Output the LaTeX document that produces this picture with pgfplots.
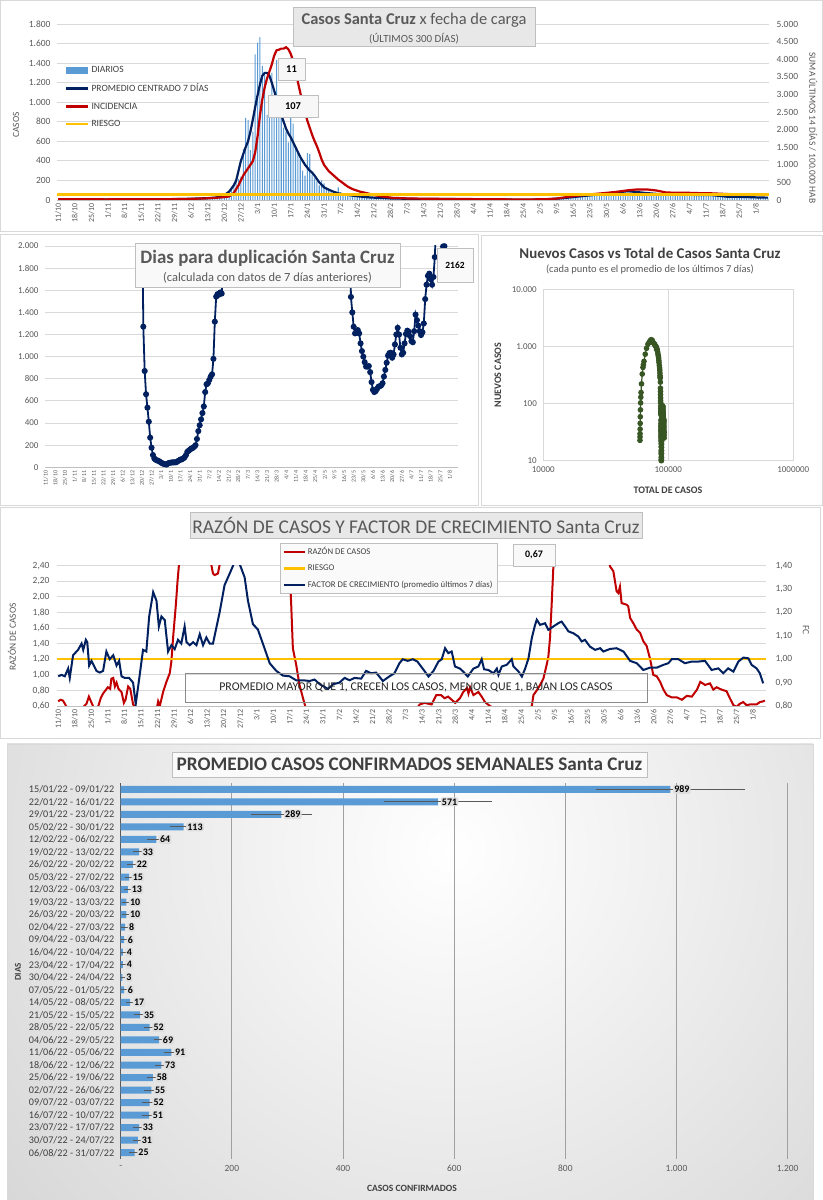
\documentclass[border=0pt]{standalone}
\usepackage{fontspec}
\setmainfont{Carlito}
\usepackage{pgfplots}
\pgfplotsset{compat=1.18}
\definecolor{barblue}{RGB}{91,155,213}
\definecolor{navy}{RGB}{0,32,96}
\definecolor{xred}{RGB}{192,0,0}
\definecolor{xorange}{RGB}{255,192,0}
\definecolor{xgreen}{RGB}{55,86,35}
\definecolor{tickgray}{RGB}{89,89,89}
\definecolor{dgray}{RGB}{64,64,64}
\definecolor{gridgray}{RGB}{217,217,217}
\definecolor{boxfill}{RGB}{232,232,232}
\definecolor{boxdraw}{RGB}{191,191,191}
\definecolor{lblfill}{RGB}{222,222,222}
\definecolor{vgrid}{RGB}{160,160,160}
\definecolor{shadegray}{RGB}{182,182,182}
\newcommand{\fs}[1]{\fontsize{#1}{#1}\selectfont}
\pgfplotsset{
  base/.style={scale only axis, anchor=south west,
    /pgf/number format/assume math mode=true,
    tick label style={text=tickgray},
    grid style={gridgray, line width=0.8bp},
    tick style={draw=none},
  },
  dates/.style={xmin=-0.5, xmax=299.5, xtick={0,7,...,294},
    xticklabels={11/10,18/10,25/10,1/11,8/11,15/11,22/11,29/11,6/12,13/12,20/12,27/12,3/1,10/1,17/1,24/1,31/1,7/2,14/2,21/2,28/2,7/3,14/3,21/3,28/3,4/4,11/4,18/4,25/4,2/5,9/5,16/5,23/5,30/5,6/6,13/6,20/6,27/6,4/7,11/7,18/7,25/7,1/8},
    xticklabel style={rotate=90, anchor=east}},
}
\begin{document}
\begin{tikzpicture}
\path[use as bounding box, fill=white] (0,0) rectangle (823bp,1200bp);
% panel frames
\draw[gridgray] (0.5bp,968.5bp) rectangle (822.5bp,1199.5bp);
\draw[gridgray] (0.5bp,695bp) rectangle (478bp,966bp);
\draw[gridgray] (481bp,695bp) rectangle (822.5bp,965bp);
\draw[gridgray] (0.5bp,462bp) rectangle (820bp,693bp);
% panel 4 background
\begin{scope}
\clip (7bp,0bp) rectangle (813bp,456bp);
\shade[inner color=white, outer color=shadegray] (450bp,350bp) circle (1050bp);
\end{scope}
\draw[gridgray] (7bp,0bp) rectangle (813bp,456bp);

% ================= PANEL 1 =================
\begin{axis}[base, dates, at={(57bp,1000bp)}, width=712bp, height=176bp,
  ymin=0, ymax=1800, ytick={0,200,...,1800}, ymajorgrids,
  axis x line*=bottom, axis y line*=left,
  x axis line style={boxdraw}, y axis line style={draw=none},
  /pgf/number format/1000 sep={.},
  yticklabel style={font=\fs{9.5}, xshift=-3bp}, xticklabel style={font=\fs{8}},
  legend style={at={(0.011,0.77)}, anchor=north west, draw=none, fill=none,
    font=\fs{9.6}, text=dgray, inner sep=0pt, row sep=5.5bp},
  legend cell align=left,
  legend image code/.code={\draw[#1] (0bp,0bp) -- (22bp,0bp);}]
\addplot[ybar, bar width=0.45, fill=barblue, draw=none,
  legend image code/.code={\fill[barblue] (0bp,-3.5bp) rectangle (22bp,3.5bp);}]
coordinates {
(0,4)(1,3)(2,5)(3,6)(4,4)(5,3)(6,2)(7,5)(8,6)(9,4)
(10,7)(11,5)(12,4)(13,6)(14,8)(15,5)(16,3)(17,4)(18,6)(19,5)
(20,6)(21,8)(22,7)(23,5)(24,9)(25,6)(26,4)(27,5)(28,7)(29,6)
(30,5)(31,4)(32,3)(33,5)(34,4)(35,6)(36,7)(37,5)(38,4)(39,3)
(40,5)(41,6)(42,4)(43,7)(44,8)(45,6)(46,5)(47,9)(48,8)(49,10)
(50,9)(51,11)(52,12)(53,10)(54,13)(55,12)(56,10)(57,14)(58,15)(59,13)
(60,16)(61,18)(62,15)(63,20)(64,22)(65,19)(66,25)(67,28)(68,30)(69,38)
(70,45)(71,65)(72,85)(73,120)(74,160)(75,210)(76,215)(77,240)(78,520)(79,840)
(80,820)(81,510)(82,700)(83,1490)(84,1610)(85,1665)(86,1370)(87,1300)(88,870)(89,860)
(90,1300)(91,860)(92,1430)(93,1030)(94,860)(95,740)(96,700)(97,590)(98,880)(99,780)
(100,530)(101,500)(102,420)(103,300)(104,250)(105,480)(106,470)(107,260)(108,220)(109,190)
(110,150)(111,200)(112,170)(113,110)(114,100)(115,80)(116,70)(117,60)(118,130)(119,80)
(120,60)(121,50)(122,50)(123,40)(124,40)(125,40)(126,35)(127,30)(128,35)(129,30)
(130,30)(131,30)(132,25)(133,22)(134,20)(135,25)(136,22)(137,20)(138,20)(139,18)
(140,15)(141,14)(142,16)(143,15)(144,13)(145,14)(146,14)(147,12)(148,13)(149,15)
(150,12)(151,13)(152,12)(153,11)(154,10)(155,9)(156,12)(157,10)(158,9)(159,9)
(160,10)(161,11)(162,9)(163,10)(164,10)(165,11)(166,9)(167,8)(168,9)(169,7)
(170,8)(171,8)(172,9)(173,7)(174,6)(175,7)(176,5)(177,6)(178,6)(179,7)
(180,5)(181,4)(182,5)(183,3)(184,4)(185,4)(186,5)(187,3)(188,4)(189,4)
(190,3)(191,5)(192,4)(193,4)(194,4)(195,3)(196,2)(197,4)(198,3)(199,3)
(200,4)(201,2)(202,5)(203,6)(204,7)(205,5)(206,6)(207,7)(208,6)(209,12)
(210,14)(211,16)(212,18)(213,20)(214,19)(215,20)(216,28)(217,30)(218,35)(219,38)
(220,36)(221,40)(222,38)(223,45)(224,50)(225,52)(226,55)(227,54)(228,53)(229,55)
(230,60)(231,65)(232,70)(233,72)(234,70)(235,73)(236,73)(237,85)(238,90)(239,95)
(240,98)(241,92)(242,88)(243,89)(244,80)(245,78)(246,74)(247,72)(248,70)(249,68)
(250,69)(251,62)(252,60)(253,58)(254,57)(255,56)(256,55)(257,58)(258,56)(259,54)
(260,55)(261,57)(262,55)(263,53)(264,55)(265,52)(266,53)(267,50)(268,54)(269,52)
(270,51)(271,52)(272,53)(273,52)(274,50)(275,51)(276,49)(277,52)(278,50)(279,40)
(280,36)(281,34)(282,32)(283,30)(284,30)(285,29)(286,32)(287,30)(288,31)(289,33)
(290,30)(291,31)(292,30)(293,28)(294,26)(295,25)(296,24)(297,25)(298,24)(299,23)
};
\addlegendentry{DIARIOS}
\addplot[navy, line width=2.2bp] coordinates {
(0,5)(10,5)(20,6)(30,5)(40,5)(50,9)(55,12)(60,16)(64,20)(66,24)(68,32)(70,50)(72,85)(74,150)(75,200)(76,300)(77,400)(78,470)(79,540)(80,600)(81,700)(82,820)(83,950)(84,1070)(85,1180)(86,1270)(87,1300)(88,1300)(89,1270)(90,1200)(91,1120)(92,1030)(93,950)(94,870)(95,800)(96,730)(97,680)(98,640)(99,590)(100,540)(101,490)(102,440)(103,400)(104,360)(105,330)(106,300)(107,280)(108,250)(109,215)(110,180)(111,155)(112,130)(114,105)(116,85)(118,68)(120,58)(124,45)(128,33)(132,25)(136,21)(140,16)(146,13)(155,10)(165,10)(170,8)(177,6)(184,4)(191,4)(198,3)(205,6)(212,17)(219,35)(226,52)(233,69)(240,91)(247,73)(254,58)(261,55)(268,52)(275,51)(282,33)(289,31)(296,25)(299,24)
};
\addlegendentry{PROMEDIO CENTRADO 7 DÍAS}
\addlegendimage{xred, line width=2.5bp}
\addlegendentry{INCIDENCIA}
\addlegendimage{xorange, line width=2.5bp}
\addlegendentry{RIESGO}
\end{axis}
\begin{axis}[base, at={(57bp,1000bp)}, width=712bp, height=176bp,
  xmin=-0.5, xmax=299.5, ymin=0, ymax=5000, ytick={0,500,...,5000},
  axis y line*=right, axis x line=none, y axis line style={draw=none},
  /pgf/number format/1000 sep={.}, yticklabel style={font=\fs{9.5}, xshift=4bp}]
\addplot[xred, line width=2.2bp] coordinates {
(0,20)(20,18)(40,20)(55,30)(62,45)(66,60)(70,80)(72,100)(74,200)(76,420)(78,700)(80,900)(82,1100)(83,1350)(84,1800)(85,2400)(86,2850)(87,3200)(88,3450)(89,3650)(90,3850)(91,4100)(92,4250)(93,4270)(94,4300)(95,4300)(96,4340)(97,4280)(98,4150)(99,3950)(100,3650)(101,3350)(102,3050)(103,2750)(104,2480)(105,2250)(106,2050)(107,1850)(108,1680)(109,1530)(110,1350)(111,1150)(112,1000)(114,820)(116,700)(118,580)(120,480)(122,380)(124,310)(127,240)(130,195)(133,140)(137,95)(141,60)(147,45)(155,35)(165,30)(175,25)(185,20)(195,15)(205,20)(210,40)(215,90)(220,130)(225,165)(230,195)(235,230)(240,275)(244,300)(248,300)(252,270)(256,215)(260,205)(265,205)(270,195)(275,190)(280,175)(283,165)
};
\addplot[xorange, line width=2.6bp] coordinates {(-0.5,150)(299.5,150)};
\end{axis}
\node[rotate=90, text=tickgray, font=\fs{9.5}] at (16bp,1075bp) {CASOS};
\node[rotate=-90, text=tickgray, font=\fs{9.5}] at (813bp,1072bp) {SUMA ÚLTIMOS 14 DÍAS / 100.000 HAB};
\draw[boxdraw, fill=boxfill] (293bp,1154bp) rectangle (535bp,1193bp);
\node[text=tickgray, font=\fs{16.5}] at (414bp,1179.5bp) {\textbf{Casos Santa Cruz} x fecha de carga};
\node[text=tickgray, font=\fs{11}] at (414bp,1161.5bp) {(ÚLTIMOS 300 DÍAS)};
\node[draw=boxdraw, fill=white!94!gray, minimum width=27bp, minimum height=22bp, inner sep=0pt, font=\bfseries\fs{10.5}] at (291.5bp,1131bp) {11};
\node[draw=boxdraw, fill=white!94!gray, minimum width=50bp, minimum height=22bp, inner sep=0pt, font=\bfseries\fs{10.5}] at (293bp,1094bp) {107};

% ================= PANEL 2 LEFT =================
\begin{axis}[base, dates, at={(45bp,732.7bp)}, width=412.5bp, height=221.3bp,
  ymin=0, ymax=2000, ytick={0,200,...,2000}, ymajorgrids,
  axis x line*=bottom, axis y line*=left,
  x axis line style={boxdraw}, y axis line style={draw=none},
  /pgf/number format/1000 sep={.},
  yticklabel style={font=\fs{9}, xshift=-3bp}, xticklabel style={font=\fs{6}}]
\addplot[navy, line width=1.8bp, mark=*, mark size=2.1bp, mark options={fill=navy}] coordinates {
(70,2600)(71,1271)(72,870)(73,660)(74,539)(75,412)(76,268)(77,177)(78,111)(79,80)(80,68)(81,62)(82,58)(83,50)(84,42)(85,35)(86,30)(87,27)(88,25)(89,35)(90,40)(91,42)(92,44)(93,45)(94,44)(95,46)(96,55)(97,62)(98,70)(99,72)(100,80)(101,90)(102,110)(103,140)(104,150)(105,160)(106,170)(107,175)(108,185)(109,200)(110,256)(111,327)(112,380)(113,433)(114,490)(115,550)(116,680)(117,750)(118,760)(119,790)(120,820)(121,840)(122,980)(123,1316)(124,1542)(125,1565)(126,1560)(127,1580)(128,1570)(129,1768)(130,2400)
};
\addplot[navy, line width=1.8bp, mark=*, mark size=2.1bp, mark options={fill=navy}] coordinates {
(221,2400)(222,1540)(223,1400)(224,1270)(225,1210)(226,1220)(227,1240)(228,1210)(229,1120)(230,1050)(231,1000)(232,950)(233,910)(234,910)(235,915)(236,860)(237,770)(238,700)(239,680)(240,688)(241,710)(242,728)(243,733)(244,740)(245,760)(246,820)(247,880)(248,945)(249,1010)(250,1032)(251,1035)(252,990)(253,1020)(254,1110)(255,1200)(256,1260)(257,1200)(258,1080)(259,1020)(260,1035)(261,1120)(262,1205)(263,1235)(264,1225)(265,1185)(266,1140)(267,1130)(268,1230)(269,1380)(270,1330)(271,1280)(272,1230)(273,1195)(274,1220)(275,1300)(276,1520)(277,1650)(278,1730)(279,1750)(280,1700)(281,1650)(282,1720)(283,1900)(284,2200)(285,2400)(286,2300)(287,2100)(288,2050)(289,1995)(290,1998)(291,2162)
};
\end{axis}
\draw[boxdraw, fill=white!95!gray] (135bp,913bp) rectangle (400bp,957bp);
\node[text=tickgray, font=\bfseries\fs{19}] at (267.5bp,942bp) {Dias para duplicación Santa Cruz};
\node[text=tickgray, font=\fs{12.5}] at (267.5bp,922bp) {(calculada con datos de 7 días anteriores)};
\node[draw=boxdraw, fill=white!95!gray, minimum width=36bp, minimum height=34bp, inner sep=0pt, font=\bfseries\fs{9.5}] at (455bp,935bp) {2162};

% ================= PANEL 2 RIGHT =================
\begin{axis}[base, at={(543.3bp,739.3bp)}, width=250bp, height=171.4bp,
  xmode=log, ymode=log, xmin=10000, xmax=1000000, ymin=10, ymax=10000,
  xtick={10000,100000,1000000}, xticklabels={10000,100000,1000000},
  ytick={10,100,1000,10000}, yticklabels={10,100,1.000,10.000},
  grid=major, axis line style={gridgray}, tick label style={font=\fs{9}},
  yticklabel style={xshift=-3bp}, xticklabel style={yshift=-2bp}]
\addplot[xgreen, line width=1.2bp, mark=*, mark size=2.2bp, mark options={fill=xgreen}] coordinates {
(59330,22.7)(59368,26)(59413,29.6)(59478,35.7)(59563,45)(59683,58.7)(59843,77.6)(60053,103)(60268,129)(60508,156)(61028,221)(61868,329)(62688,429)(63198,479)(63898,549)(65388,731)(66998,927)(68663,1091)(70033,1166)(71333,1235)(72203,1286)(73063,1309)(74363,1282)(75223,1175)(76653,1141)(77683,1093)(78543,1030)(79283,1011)(79983,989)(80573,887)(81453,890)(82233,797)(82763,726)(83263,674)(83683,629)(83983,571)(84233,523)(84713,466)(85183,421)(85443,383)(85663,343)(85853,310)(86003,289)(86203,281)(86373,237)(86483,186)(86583,163)(86663,143)(86733,126)(86793,113)(86923,103)(87003,90)(87063,83)(87113,76)(87163,71)(87203,67)(87243,64)(87283,51)(87318,45)(87348,41)(87383,39)(87413,36)(87443,34)(87473,33)(87498,31)(87520,29)(87540,27)(87565,26)(87587,25)(87607,23)(87627,22)(87660,20)(87690,17.5)(87732,15)(87770,14)(87823,13)(87850,11.5)(87893,10.5)(87930,10.2)(87963,10)
(88240,11.3)(88260,13.3)(88279,15)(88299,17)(88327,19.3)(88357,21.6)(88392,24.3)(88430,27.1)(88466,29.4)(88506,32.4)(88544,35)(88589,37.4)(88639,40.3)(88691,42.7)(88746,45.1)(88800,47.7)(88853,49.6)(88908,52)(88968,54.1)(89033,56.3)(89103,58.9)(89175,61.3)(89245,63.6)(89318,66.4)(89391,69)(89476,72.6)(89566,76.1)(89661,79.7)(89759,83.7)(89851,86.9)(89939,89)(90028,91)(90108,90.3)(90186,88.6)(90260,85.6)(90332,81.9)(90402,78.7)(90470,75.9)(90539,73)(90601,70.4)(90661,67.9)(90719,65.6)(90776,63.4)(90832,61.4)(90887,59.6)(90945,58)(91055,56.5)(91165,55.5)(91330,55)(91490,53)(91694,52)(91850,51.5)(92051,51)(92091,49)(92127,47)(92161,44)(92193,41.3)(92223,38.9)(92253,35.9)(92282,33)(92375,31.5)(92499,31)(92580,28)(92674,25)
};
\end{axis}
\node[text=dgray, font=\bfseries\fs{15}] at (650bp,947bp) {Nuevos Casos vs Total de Casos Santa Cruz};
\node[text=tickgray, font=\fs{10.5}] at (650bp,930bp) {(cada punto es el promedio de los últimos 7 días)};
\node[rotate=90, text=dgray, font=\bfseries\fs{10}] at (498bp,825bp) {NUEVOS CASOS};
\node[text=dgray, font=\bfseries\fs{10}] at (668bp,710bp) {TOTAL DE CASOS};

% ================= PANEL 3 =================
\begin{axis}[base, dates, at={(57bp,494bp)}, width=709bp, height=140.3bp,
  ymin=0.6, ymax=2.4, ytick={0.6,0.8,1.0,1.2,1.4,1.6,1.8,2.0,2.2,2.4}, ymajorgrids,
  axis x line*=bottom, axis y line*=left,
  x axis line style={boxdraw}, y axis line style={draw=none},
  yticklabel style={font=\fs{9.5}, xshift=-4bp, /pgf/number format/.cd, fixed, fixed zerofill, precision=2, use comma},
  xticklabel style={font=\fs{8}},
  legend style={at={(0.3145,1.162)}, anchor=north west, draw=boxdraw, fill=white!96!gray,
    font=\fs{8.8}, text=dgray, inner sep=2.5bp, row sep=4.5bp},
  legend cell align=left,
  legend image code/.code={\draw[#1] (0bp,0bp) -- (21bp,0bp);}]
\addplot[xred, line width=2bp] coordinates {
(0,0.66)(1,0.68)(2,0.67)(3,0.62)(4,0.55)(6,0.5)(8,0.52)(10,0.55)(11,0.6)(12,0.63)(13,0.72)(14,0.65)(15,0.58)(16,0.55)(17,0.6)(18,0.7)(19,0.76)(20,0.8)(21,0.84)(22,0.82)(22.5,0.95)(23.3,0.96)(24,0.85)(24.7,0.9)(25.5,0.82)(26.8,0.78)(27.8,0.64)(28.5,0.68)(29.6,0.85)(30.5,0.82)(31.7,0.62)(33,0.57)(36,0.45)(39,0.45)(41.6,0.55)(42.3,0.66)(43,0.6)(44.4,0.78)(45.8,0.91)(47.2,1.02)(47.9,1.17)(48.6,1.47)(49.8,1.9)(50.5,2.2)(51.5,2.55)(53,3.2)(56,4)(60,3.6)(63,2.8)(64.8,2.41)(65.5,2.3)(66.2,2.28)(67.6,2.3)(68.3,2.41)(70,3.5)(75,6)(80,5)(85,4)(90,3.5)(95,3)(97.2,2.6)(97.9,2.37)(98.6,1.9)(99.3,1.34)(100.7,1.13)(102.1,0.87)(103.6,0.7)(104.7,0.58)(106,0.5)(110,0.3)(120,0.25)(140,0.4)(150,0.55)(152,0.58)(153,0.62)(155,0.64)(158,0.62)(160,0.74)(162,0.74)(163.5,0.7)(165,0.72)(166.5,0.68)(168,0.64)(170,0.7)(171.4,0.78)(173,0.83)(173.6,0.76)(174.3,0.84)(175.7,0.74)(177.8,0.78)(179.2,0.72)(180.6,0.65)(182.7,0.6)(184,0.58)(190,0.55)(195,0.57)(199,0.56)(200.4,0.6)(201.1,0.74)(202.5,0.8)(203.9,0.87)(205.3,0.95)(206.7,1.13)(207.4,1.23)(208.1,1.47)(208.8,1.9)(209.5,2.37)(210.5,3)(215,5)(225,5)(232,3)(233.5,2.39)(234.9,2.33)(236.3,2.07)(237,2.05)(237.7,2.13)(238.4,1.92)(240.5,1.9)(241.2,1.88)(242,1.73)(243.4,1.66)(244.8,1.58)(246.2,1.54)(247.6,1.43)(249,1.37)(250.4,1.21)(251.8,1.0)(253.3,0.98)(254.7,0.91)(256.1,0.81)(257.5,0.74)(259.6,0.71)(261.8,0.71)(263.9,0.68)(266,0.73)(268.1,0.72)(270.3,0.81)(271.7,0.91)(273.7,0.87)(275.8,0.89)(277.2,0.81)(278.6,0.84)(280.7,0.81)(282.8,0.79)(284.2,0.7)(285.7,0.61)(287.1,0.59)(288.5,0.63)(289.9,0.65)(291.3,0.61)(292.7,0.62)(295.5,0.62)(296.9,0.65)(298.3,0.66)(299,0.67)
};
\addlegendentry{RAZÓN DE CASOS}
\addplot[xorange, line width=2.2bp] coordinates {(-0.5,1.2)(299.5,1.2)};
\addlegendentry{RIESGO}
\addlegendimage{navy, line width=2bp}
\addlegendentry{FACTOR DE CRECIMIENTO (promedio últimos 7 días)}
\end{axis}
\begin{axis}[base, at={(57bp,494bp)}, width=709bp, height=140.3bp,
  xmin=-0.5, xmax=299.5, ymin=0.8, ymax=1.4, ytick={0.8,0.9,1.0,1.1,1.2,1.3,1.4},
  axis y line*=right, axis x line=none, y axis line style={draw=none},
  yticklabel style={font=\fs{9.5}, xshift=6bp, /pgf/number format/.cd, fixed, fixed zerofill, precision=2, use comma}]
\addplot[navy, line width=2bp] coordinates {
(0,0.927)(1.4,0.933)(2.8,0.927)(4.2,0.96)(4.9,0.92)(6.3,1.017)(8.4,1.04)(9.9,1.067)(10.6,1.04)(11.7,1.083)(12.3,1.073)(13.1,0.973)(14.1,0.993)(16.2,0.95)(17.6,0.943)(19,0.95)(20.4,1.033)(21.8,1.0)(23.3,1.017)(24.7,0.973)(25.8,0.993)(26.8,0.927)(28.2,0.92)(30,0.92)(31.7,0.9)(32.8,0.807)(34.5,0.933)(35.9,1.04)(37.3,1.033)(38.5,1.183)(40.2,1.287)(41.6,1.25)(42.6,1.14)(43.7,1.183)(45.1,1.167)(46.5,1.033)(47.9,1.06)(49.3,1.043)(50.7,1.083)(52.1,1.067)(53.5,1.14)(54.3,1.073)(55.7,1.06)(57.1,1.073)(58.5,1.06)(59.9,1.107)(61.3,1.06)(62.7,1.093)(64.1,1.067)(65.5,1.067)(68.3,1.2)(70.4,1.317)(72.6,1.367)(74.7,1.417)(76.8,1.407)(78.9,1.35)(80.3,1.25)(82.4,1.15)(84.5,1.127)(86.6,1.067)(89.5,0.983)(92.3,0.95)(95.1,0.93)(97.9,0.927)(100.7,0.91)(103.6,0.91)(106.4,0.907)(108.5,0.913)(110.7,0.893)(114.2,0.873)(116.3,0.893)(119,0.9)(121.2,0.92)(123.3,0.91)(125.4,0.92)(128.2,0.917)(130.3,0.95)(132.4,0.94)(134.5,0.943)(137.4,0.907)(140.2,0.927)(142.3,0.94)(144.4,0.983)(145.8,1.0)(147.9,0.993)(150.1,1.0)(152,0.99)(154.6,0.955)(156.7,0.926)(158.8,0.95)(160.9,0.99)(162.3,1.0)(163.7,1.047)(165.1,1.026)(166.5,1.033)(167.9,0.969)(170,0.96)(171.4,0.947)(173.3,0.926)(175.7,0.96)(177.8,0.969)(179.2,1.0)(180.2,0.957)(182,0.954)(184.2,0.94)(185.6,0.96)(186.3,0.933)(187.7,0.969)(189.8,0.976)(191.9,1.0)(192.6,0.97)(194.8,0.947)(196.2,0.926)(197.6,0.96)(199,1.004)(200.4,1.09)(201.8,1.147)(202.5,1.169)(203.9,1.147)(206,1.154)(207.4,1.126)(208.1,1.13)(209.5,1.14)(211.6,1.154)(213,1.161)(214.5,1.14)(215.9,1.119)(218,1.111)(220.1,1.097)(221.5,1.076)(222.9,1.083)(225,1.054)(227.2,1.04)(229.3,1.047)(230.7,1.033)(233.5,1.044)(236.3,1.047)(239.2,1.033)(242,0.993)(244.8,0.983)(247.6,0.954)(250.4,0.964)(253.3,0.964)(256.1,0.976)(258.2,0.983)(259.6,1.0)(262.4,1.0)(265.2,0.983)(268.1,0.99)(270.9,0.99)(273.7,0.993)(276.5,0.954)(279.3,0.961)(281.4,0.94)(283.5,0.961)(285.7,0.947)(287.8,0.99)(289.9,1.007)(292,1.004)(293.4,0.976)(295.5,0.961)(296.9,0.94)(298.3,0.897)
};
\end{axis}
\node[rotate=90, text=tickgray, font=\fs{9.5}] at (12bp,563bp) {RAZÓN DE CASOS};
\node[rotate=-90, text=tickgray, font=\fs{9.5}] at (806bp,570bp) {FC};
\draw[boxdraw, fill=boxfill] (190bp,662bp) rectangle (642bp,688bp);
\node[text=tickgray, font=\fs{19.5}] at (416bp,675bp) {RAZÓN DE CASOS Y FACTOR DE CRECIMIENTO Santa Cruz};
\node[draw=boxdraw, fill=white!95!gray, minimum width=42bp, minimum height=22bp, inner sep=0pt, font=\bfseries\fs{10}] at (534bp,645bp) {0,67};
\draw[tickgray!70] (185bp,498bp) rectangle (647bp,527bp);
\node[text=black!85, font=\fs{11.9}] at (416bp,512.5bp) {PROMEDIO MAYOR QUE 1, CRECEN LOS CASOS, MENOR QUE 1, BAJAN LOS CASOS};

% ================= PANEL 4 =================
\begin{axis}[base, at={(120.7bp,41bp)}, width=667bp, height=376bp,
  xmin=0, xmax=1200, xtick={0,200,...,1200}, xticklabels={-,200,400,600,800,1.000,1.200},
  ymin=-0.5, ymax=29.5, y dir=reverse, ytick={0,...,29},
  yticklabels={15/01/22 - 09/01/22,22/01/22 - 16/01/22,29/01/22 - 23/01/22,05/02/22 - 30/01/22,12/02/22 - 06/02/22,19/02/22 - 13/02/22,26/02/22 - 20/02/22,05/03/22 - 27/02/22,12/03/22 - 06/03/22,19/03/22 - 13/03/22,26/03/22 - 20/03/22,02/04/22 - 27/03/22,09/04/22 - 03/04/22,16/04/22 - 10/04/22,23/04/22 - 17/04/22,30/04/22 - 24/04/22,07/05/22 - 01/05/22,14/05/22 - 08/05/22,21/05/22 - 15/05/22,28/05/22 - 22/05/22,04/06/22 - 29/05/22,11/06/22 - 05/06/22,18/06/22 - 12/06/22,25/06/22 - 19/06/22,02/07/22 - 26/06/22,09/07/22 - 03/07/22,16/07/22 - 10/07/22,23/07/22 - 17/07/22,30/07/22 - 24/07/22,06/08/22 - 31/07/22},
  xmajorgrids, grid style={vgrid, line width=1bp},
  axis x line*=bottom, axis y line*=left,
  x axis line style={draw=none}, y axis line style={tickgray, line width=1.5bp},
  yticklabel style={font=\fs{10.2}, text=dgray, xshift=-3bp}, xticklabel style={font=\fs{9.5}, yshift=-3bp}]
\addplot[xbar, bar width=7bp, fill=barblue, draw=none, point meta=x,
  nodes near coords, nodes near coords align={horizontal},
  every node near coord/.append style={font=\bfseries\fs{10}, text=black, fill=lblfill, rounded corners=2bp, inner sep=1.2bp, anchor=west, xshift=2.5bp},
  error bars/.cd, x dir=both, x explicit,
  error bar style={tickgray, line width=0.9bp},
  error mark options={tickgray, line width=0.9bp, mark size=2.5bp}]
coordinates {
(989,0) +- (130,0)
(571,1) +- (92,0)
(289,2) +- (50,0)
(113,3) +- (20,0)
(64,4) +- (12,0)
(33,5) +- (6,0)
(22,6) +- (6,0)
(15,7) +- (2,0)
(13,8) +- (2,0)
(10,9) +- (3,0)
(10,10) +- (3,0)
(8,11) +- (3,0)
(6,12) +- (2,0)
(4,13) +- (1,0)
(4,14) +- (1,0)
(3,15) +- (1,0)
(6,16) +- (2,0)
(17,17) +- (3,0)
(35,18) +- (6,0)
(52,19) +- (6,0)
(69,20) +- (5,0)
(91,21) +- (8,0)
(73,22) +- (6,0)
(58,23) +- (7,0)
(55,24) +- (8,0)
(52,25) +- (9,0)
(51,26) +- (9,0)
(33,27) +- (7,0)
(31,28) +- (5,0)
(25,29) +- (6,0)
};
\end{axis}
\draw[boxdraw, fill=white!96!gray] (172bp,423bp) rectangle (647bp,448bp);
\node[text=dgray, font=\bfseries\fs{19.3}] at (409.5bp,435.5bp) {PROMEDIO CASOS CONFIRMADOS SEMANALES Santa Cruz};
\node[text=dgray, font=\bfseries\fs{9.6}] at (412bp,12bp) {CASOS CONFIRMADOS};
\node[rotate=90, text=dgray, font=\bfseries\fs{9}] at (18bp,228bp) {DIAS};
\end{tikzpicture}
\end{document}
